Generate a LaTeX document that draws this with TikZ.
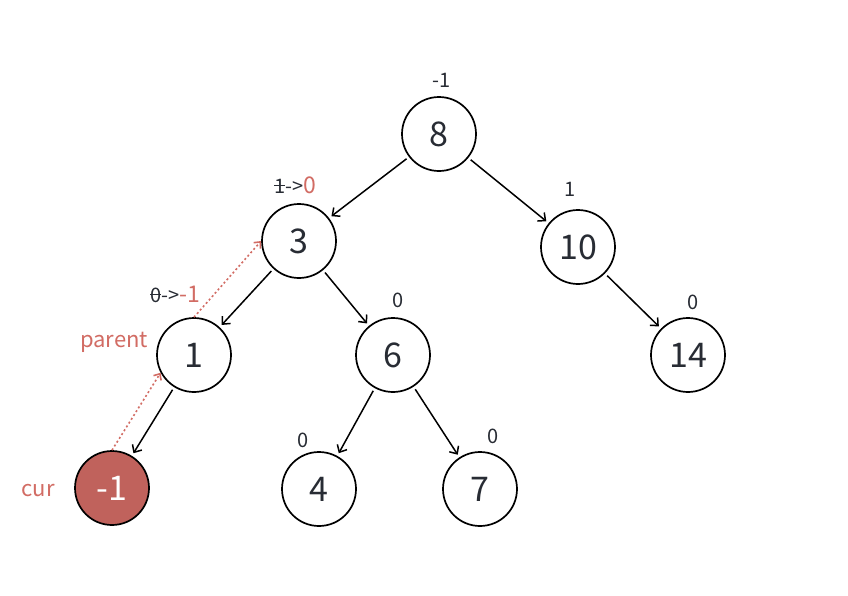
\documentclass[tikz,border=0pt]{standalone}
\usepackage{fontspec}
\setmainfont{Noto Sans CJK SC}
\usetikzlibrary{arrows.meta}
\definecolor{ink}{RGB}{40,44,52}
\definecolor{redfill}{RGB}{192,98,92}
\definecolor{redtext}{RGB}{210,108,100}
\newcommand\strk[1]{\ooalign{#1\cr\leaders\hrule height .42em depth -.34em\hfil\cr}}
\begin{document}
\begin{tikzpicture}[x=1pt,y=-1pt,
 tnode/.style={circle,draw=black,line width=1.7pt,minimum size=74pt,inner sep=0pt,text=ink,font=\fontsize{34}{34}\selectfont},
 curnode/.style={tnode,fill=redfill,text=white},
 edge/.style={-{Straight Barb[length=6pt,width=11pt]},line width=1.5pt,shorten <=3pt,shorten >=3pt},
 back/.style={-{Straight Barb[length=5pt,width=9pt]},draw=redtext,line width=1.6pt,dash pattern=on 2pt off 2.5pt},
 bal/.style={text=ink,font=\fontsize{20}{20}\selectfont,inner sep=0pt},
 rlab/.style={text=redtext,font=\fontsize{22}{22}\selectfont,inner sep=0pt}]
\useasboundingbox (0,0) rectangle (848,595);
\fill[white] (0,0) rectangle (848,595);
% tree nodes
\node[tnode] (n8) at (439,134) {8};
\node[tnode] (n3) at (299,241) {3};
\node[tnode] (n10) at (578,247) {10};
\node[tnode] (n1) at (194,355) {1};
\node[tnode] (n6) at (393,355) {6};
\node[tnode] (n14) at (688,355) {14};
\node[curnode] (cur) at (112,488) {-1};
\node[tnode] (n4) at (319,489) {4};
\node[tnode] (n7) at (480,489) {7};
% edges
\draw[edge] (n8) -- (n3);
\draw[edge] (n8) -- (n10);
\draw[edge] (n3) -- (n1);
\draw[edge] (n3) -- (n6);
\draw[edge] (n10) -- (n14);
\draw[edge] (n1) -- (cur);
\draw[edge] (n6) -- (n4);
\draw[edge] (n6) -- (n7);
% back pointers
\draw[back] (cur.north) -- (n1.208);
\draw[back] (n1.north) -- (n3.west);
% balance labels
\node[bal] (b8) at (442,80) {-1};
\node[bal] (b3) at (295,185) {\strk{1}->\textcolor{redtext}{\fontsize{23}{23}\selectfont 0}};
\node[bal] (b10) at (570,189) {1};
\node[bal] (b1) at (175,294) {\strk{0}->\textcolor{redtext}{\fontsize{23}{23}\selectfont -1}};
\node[bal] (b6) at (398,300) {0};
\node[bal] (b14) at (693,302) {0};
\node[bal] (b4) at (303,440) {0};
\node[bal] (b7) at (493,436) {0};
% pointer labels
\node[rlab] (lp) at (114,342) {parent};
\node[rlab] (lc) at (38,491) {cur};
\end{tikzpicture}
\end{document}
